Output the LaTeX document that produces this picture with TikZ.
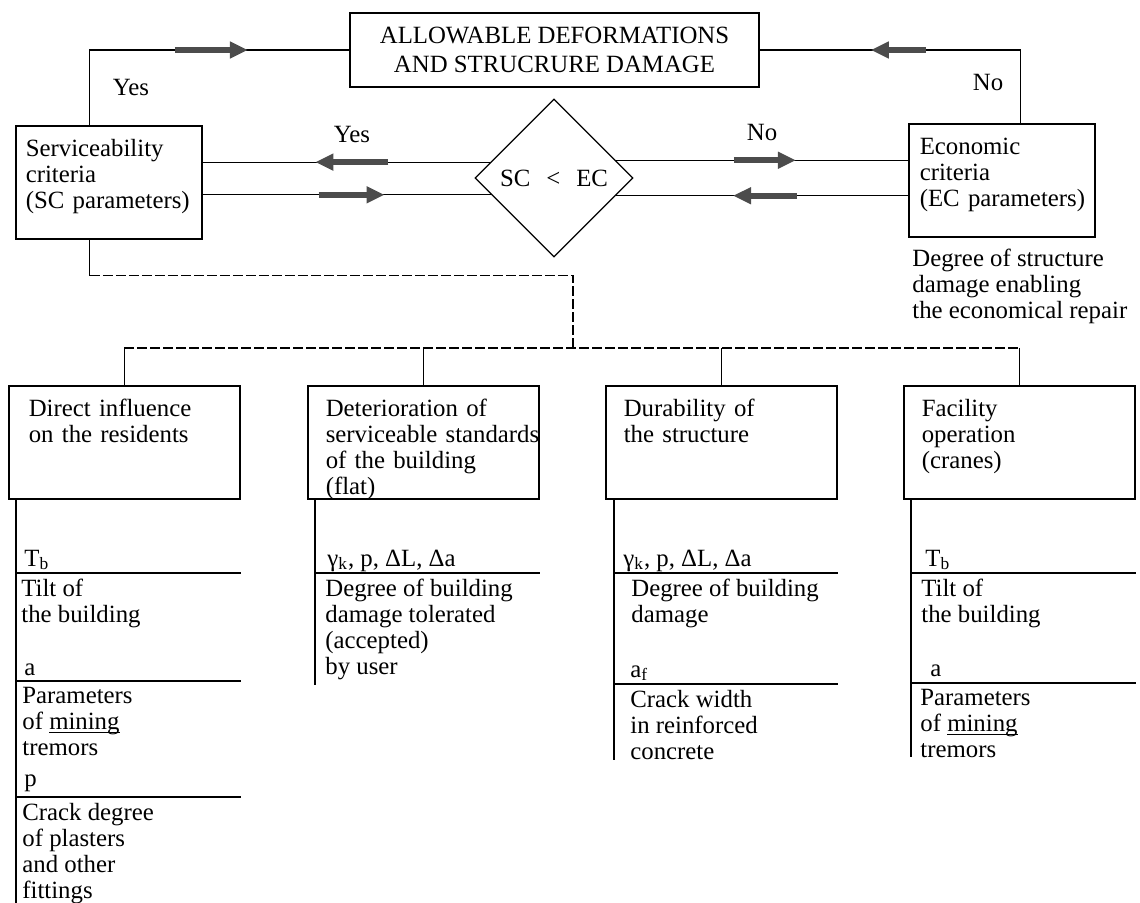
\documentclass[tikz,border=0pt]{standalone}
\usepackage{fontspec}
\setmainfont{Liberation Serif}
\usetikzlibrary{arrows.meta,calc,shapes.geometric,decorations.markings}

\tikzset{
  every node/.style={font=\fontsize{12.4}{13}\selectfont},
  box/.style={draw, line width=0.8pt, anchor=north west, align=left,
    inner xsep=#1, inner ysep=6pt, text height=9.5pt, text depth=35pt},
  box/.default=9pt,
  link/.style={line width=0.6pt},
  bus/.style={link, dash pattern=on 5pt off 1.5pt},
  fatarrow/.style={draw=black!70, line width=3.2pt, -{Triangle[length=9pt,width=8pt]}},
  fat/.style 2 args={postaction={decorate, decoration={markings,
    mark=at position #1 with {\draw[fatarrow] (-#2/2,0) -- (#2/2,0);}}}},
  item/.style={anchor=north west, align=left, inner sep=0pt},
  parm/.style={anchor=base west, inner sep=0pt}
}
\newcommand{\ul}[1]{\underline{\smash{#1}}}

\begin{document}
\begin{tikzpicture}[x=0.5pt, y=-0.5pt]
  \useasboundingbox (0,0) rectangle (1140,903);

  % upper part
  \node[draw, line width=0.8pt, minimum width=204.5pt, minimum height=37pt, align=center,
    font=\fontsize{12.4}{14.5}\selectfont] (top) at (554.5,50)
    {ALLOWABLE DEFORMATIONS\\AND STRUCRURE DAMAGE};
  \node[draw, link, diamond, aspect=1, minimum width=79pt, minimum height=79pt,
    inner sep=0pt] (cmp) at (554,178) {SC\hspace{8pt}<\hspace{8pt}EC};
  \node[box=5pt, text width=83pt] (servi) at (15,125)
    {Serviceability\\criteria\\\mbox{(SC parameters)}};
  \node[box=5.5pt, text width=82pt] (econ) at (908,123)
    {Economic\\criteria\\\mbox{(EC parameters)}};
  \node[item] (econtxt) at (912,249)
    {Degree of structure\\damage enabling\\the economical repair};

  \node (yes1) at (131,88) {Yes};
  \node (yes2) at (352,135) {Yes};
  \node (no1) at (762,133) {No};
  \node (no2) at (988,83) {No};

  \draw[link, fat={98.25pt}{36.5pt}] ($(servi.north)+(-19,0)$) |- (top.west);
  \draw[link, fat={97.75pt}{27.5pt}] ($(econ.north)+(19,0)$) |- (top.east);
  \draw[link, fat={69.25pt}{36.5pt}] (cmp.166.8) -- (cmp.166.8 -| servi.east);
  \draw[link, fat={74.5pt}{33pt}] (cmp.195.3 -| servi.east) -- (cmp.195.3);
  \draw[link, fat={74.5pt}{31pt}] (cmp.16.4) -- (cmp.16.4 -| econ.west);
  \draw[link, fat={71.5pt}{32pt}] (cmp.344.7 -| econ.west) -- (cmp.344.7);

  % lower boxes
  \node[box=10pt, text width=95.5pt] (box1) at (8,385) {Direct influence\\on the residents};
  \node[box, text width=97.5pt] (box2) at (307,385)
    {Deterioration of\\\mbox{serviceable standards}\\of the building\\(flat)};
  \node[box, text width=97.5pt] (box3) at (605,385) {Durability of\\the structure};
  \node[box, text width=97.5pt] (box4) at (903,385) {Facility\\operation\\(cranes)};

  \coordinate (fork) at (573,348);
  \draw[link] ($(servi.south)+(-19,0)$) -- ++(0,36) coordinate (knee);
  \draw[bus] (knee) -| (fork);
  \draw[bus] (box1.north |- fork) -- (box4.north |- fork);
  \foreach \b in {box1,box2,box3,box4}
    \draw[link] (\b.north |- fork) -- (\b.north);

  % column 1
  \draw[link] (16,498) -- (16,903);
  \foreach \y in {573,681,797} \draw[link] (16,\y) -- (box1.east |- 0,\y);
  \node[parm] (tb1) at (24,566) {T\textsubscript{b}};
  \node[item] (tilt1) at (21,579) {Tilt of\\the building};
  \node[parm] (a1) at (24,675) {a};
  \node[item] (trem1) at (22,687) {Parameters\\of \ul{mining}\\tremors};
  \node[parm] (p1) at (24,786) {p};
  \node[item] (crack1) at (22,803) {Crack degree\\of plasters\\and other\\fittings};

  % column 2
  \draw[link] (315,498) -- (315,685);
  \draw[link] (315,573) -- (box2.east |- 0,573);
  \node[parm] (g2) at (327,566) {γ\textsubscript{k}, p, ΔL, Δa};
  \node[item] (deg2) at (325,579) {Degree of building\\damage tolerated\\(accepted)\\by user};

  % column 3
  \draw[link] (614,498) -- (614,760);
  \foreach \y in {573,684} \draw[link] (614,\y) -- (box3.east |- 0,\y);
  \node[parm] (g3) at (623,566) {γ\textsubscript{k}, p, ΔL, Δa};
  \node[item] (deg3) at (631,579) {Degree of building\\damage};
  \node[parm] (af3) at (630,677) {a\textsubscript{f}};
  \node[item] (crw3) at (630,690) {Crack width\\in reinforced\\concrete};

  % column 4
  \draw[link] (911,498) -- (911,757);
  \foreach \y in {573,683} \draw[link] (911,\y) -- (box4.east |- 0,\y);
  \node[parm] (tb4) at (925,566) {T\textsubscript{b}};
  \node[item] (tilt4) at (921,579) {Tilt of\\the building};
  \node[parm] (a4) at (930,676) {a};
  \node[item] (trem4) at (920,689) {Parameters\\of \ul{mining}\\tremors};
\end{tikzpicture}
\end{document}
